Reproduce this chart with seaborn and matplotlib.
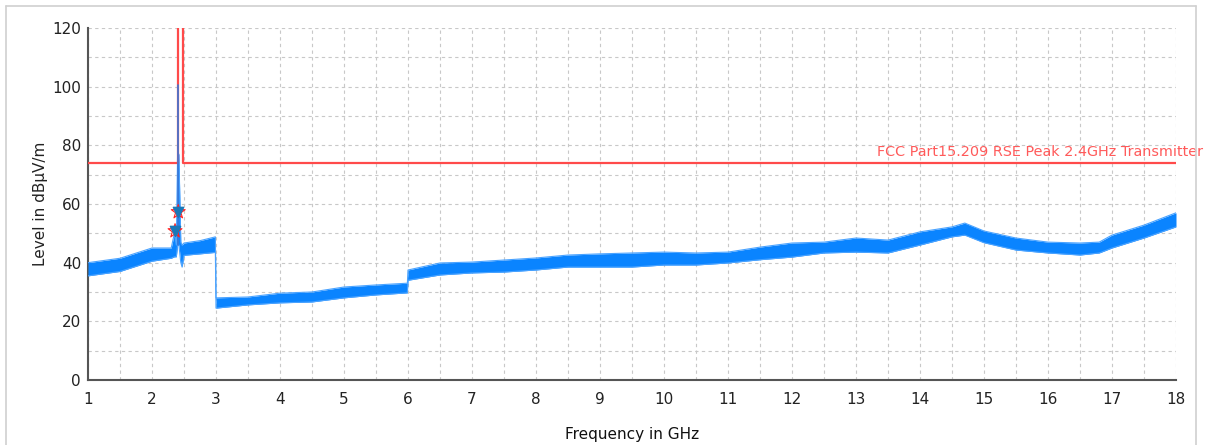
import matplotlib
matplotlib.use("Agg")
import matplotlib.pyplot as plt
import matplotlib.ticker as mticker
import seaborn as sns
import pandas as pd

freq = [1.0, 1.5, 2.0, 2.3, 2.35, 2.38, 2.40, 2.42, 2.45, 2.47, 2.5, 2.75, 2.99,
        3.0, 3.5, 4.0, 4.5, 5.0, 5.5, 5.99,
        6.0, 6.5, 7.0, 7.5, 8.0, 8.5, 9.0, 9.5, 10.0, 10.5, 11.0, 11.5, 12.0,
        12.5, 13.0, 13.5, 14.0, 14.5, 14.7, 15.0, 15.5, 16.0, 16.5, 16.8, 17.0,
        17.5, 18.0]
level_lo = [35.5, 37.0, 40.5, 41.5, 42.0, 42.0, 46.0, 46.0, 40.0, 38.5, 42.5, 43.0, 43.5,
            24.5, 25.6, 26.3, 26.6, 28.0, 29.0, 29.7,
            34.0, 35.8, 36.5, 36.8, 37.5, 38.5, 38.5, 38.5, 39.2, 39.2, 39.9, 41.0, 41.9,
            43.3, 43.6, 43.3, 46.0, 48.8, 49.4, 46.8, 44.3, 43.3, 42.6, 43.3, 45.0,
            48.4, 52.2]
level_hi = [40.0, 41.5, 45.0, 45.0, 50.0, 46.0, 77.0, 77.0, 47.0, 46.0, 46.7, 47.5, 48.8,
            28.0, 28.3, 29.6, 30.0, 31.7, 32.4, 33.0,
            37.5, 39.9, 40.2, 40.9, 41.6, 42.6, 43.0, 43.3, 43.6, 43.3, 43.6, 45.3, 46.7,
            47.0, 48.4, 47.7, 50.5, 52.2, 53.5, 50.8, 48.4, 47.0, 46.7, 47.0, 49.4,
            52.8, 57.0]

# carrier spike
spike_f = [2.413, 2.413]
spike_lvl = [46.0, 100.5]

# limit line FCC 15.209 (restricted band excluded)
limit_f = [1.0, 2.4, 2.4, 2.4835, 2.4835, 18.0]
limit_lvl = [74, 74, 130, 130, 74, 74]
limit_name = "FCC Part15.209 RSE Peak 2.4GHz Transmitter"

# peak markers
mark_f = [2.36, 2.41]
mark_lvl = [50.8, 57.3]

sns.set_style("white")
plt.rcParams["font.family"] = ["DejaVu Sans"]

fig = plt.figure(figsize=(12.11, 4.45), dpi=100)
ax = fig.add_axes([88 / 1211, 65 / 445, 1088 / 1211, 352 / 445])

trace = pd.DataFrame({"f": freq, "lo": level_lo, "hi": level_hi})
blue = "#0a84ff"
ax.fill_between(trace["f"], trace["lo"], trace["hi"], color=blue, lw=0, zorder=3)
sns.lineplot(data=trace, x="f", y="lo", color="#4aa3ff", lw=0.8, ax=ax, zorder=3)
sns.lineplot(data=trace, x="f", y="hi", color="#4aa3ff", lw=0.8, ax=ax, zorder=3)

sns.lineplot(x=limit_f, y=limit_lvl, color="#ff4a4a", lw=1.6, ax=ax, zorder=5,
             sort=False, estimator=None)
ax.plot(spike_f, spike_lvl, color="#3a78d8", lw=1.2, zorder=6)
ax.text(1.0248, 75.2, limit_name, transform=ax.get_yaxis_transform(),
        ha="right", va="bottom", color="#ff5a5a", fontsize=10.4, clip_on=False)

ax.scatter(mark_f, mark_lvl, marker="*", s=110, color="none", edgecolors="#ff2020",
           linewidths=0.8, zorder=7)
ax.scatter(mark_f, mark_lvl, marker="v", s=55, color="#1a78b8", zorder=8)

ax.set_xlim(1, 18)
ax.set_ylim(0, 120)
ax.xaxis.set_major_locator(mticker.MultipleLocator(1))
ax.xaxis.set_minor_locator(mticker.MultipleLocator(0.5))
ax.yaxis.set_major_locator(mticker.MultipleLocator(20))
ax.yaxis.set_minor_locator(mticker.MultipleLocator(10))
ax.grid(True, which="both", color="#c8c8c8", ls=(0, (3, 3)), lw=0.8, zorder=0)
ax.set_axisbelow(True)

for s in ["top", "right"]:
    ax.spines[s].set_visible(False)
for s in ["left", "bottom"]:
    ax.spines[s].set_color("#555555")
    ax.spines[s].set_linewidth(1.5)
ax.tick_params(which="both", direction="inout", color="#333333", width=1,
               labelsize=11, labelcolor="#222222")
ax.tick_params(which="major", length=8, pad=1)
ax.tick_params(which="minor", length=6)
ax.tick_params(axis="x", which="major", pad=5)

ax.set_xlabel("Frequency in GHz", fontsize=11, color="#111111")
ax.set_ylabel("Level in dBµV/m", fontsize=11, color="#222222")
ax.xaxis.set_label_coords(0.5, -(435 - 380) / 352)
ax.yaxis.set_label_coords(-(88 - 40) / 1088, 0.5)
ax.xaxis.label.set_va("center")
ax.yaxis.label.set_va("center")

# outer frame
frame = dict(color="#d0d0d0", lw=1.2, transform=fig.transFigure)
fig.add_artist(plt.Line2D([6 / 1211, 1196 / 1211], [1 - 6 / 445, 1 - 6 / 445], **frame))
fig.add_artist(plt.Line2D([6 / 1211, 6 / 1211], [0, 1 - 6 / 445], **frame))
fig.add_artist(plt.Line2D([1196 / 1211, 1196 / 1211], [0, 1 - 6 / 445], **frame))

fig.savefig("out.png", dpi=100)
